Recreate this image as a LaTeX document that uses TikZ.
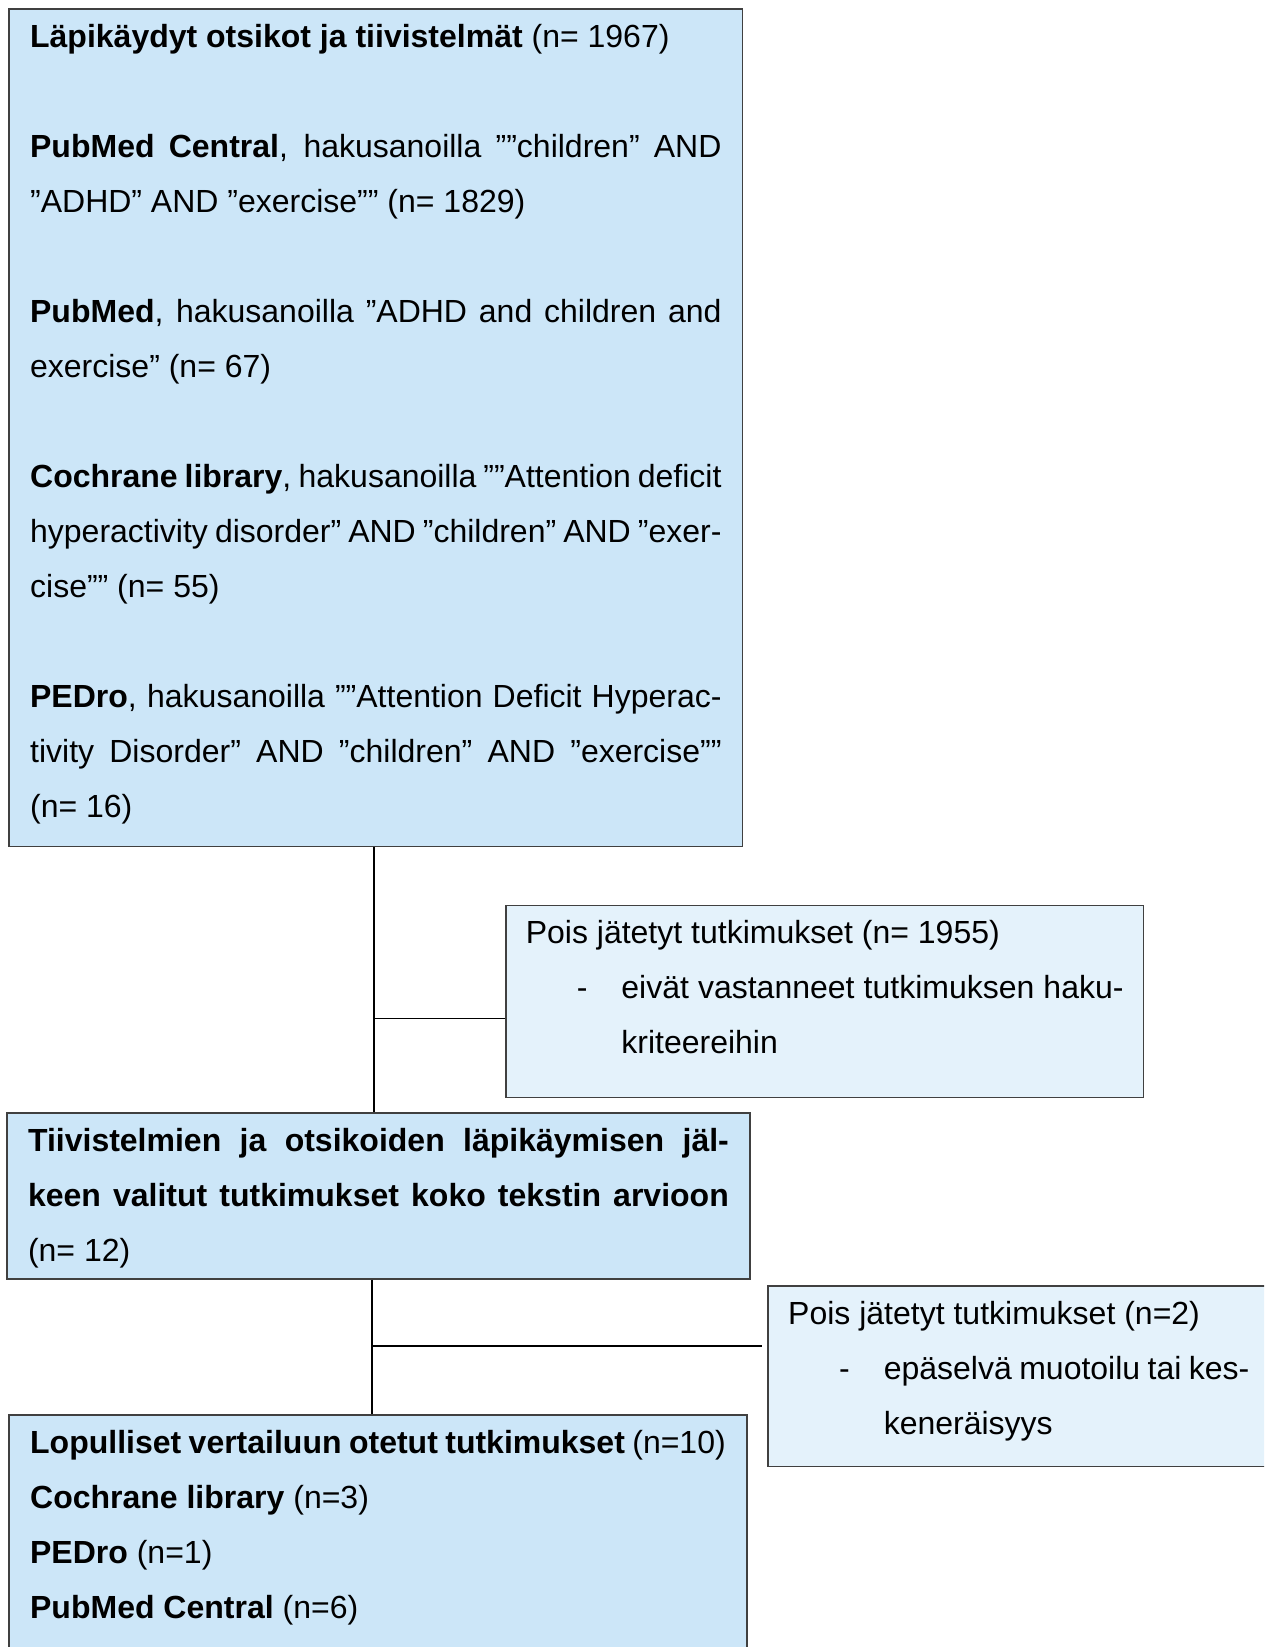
\documentclass[tikz,border=0pt]{standalone}
\usepackage{fontspec}
\setmainfont{Liberation Sans}
\usepackage{tikz}
\usetikzlibrary{
    positioning,
}
\definecolor{mainfill}{RGB}{204,230,248}
\definecolor{sidefill}{RGB}{228,242,251}
\definecolor{edge}{RGB}{64,64,64}
\newcommand{\padbelow}[1]{\rule[-#1]{0pt}{#1}}
\newcommand{\bulletgap}{\makebox[47.8pt][l]{\hspace*{25.5pt}-}}
\hyphenpenalty=10000
\tikzset{
    mainbox/.style = {
        rectangle,
        draw=edge,
        line width=0.75pt,
        fill=mainfill,
        inner xsep=10.5pt,
        inner ysep=0pt,
        align=justify,
        anchor=north west,
        font=\fontsize{16pt}{27.5pt}\selectfont,
    },
    sidebox/.style = {
        mainbox,
        fill=sidefill,
        inner xsep=10pt,
        anchor=west,
    },
}
\tikzstyle{link} = [
    line width=0.75pt,
    black
]

\begin{document}
\begin{tikzpicture}[]
        \useasboundingbox (0,0) rectangle (632pt,-823.5pt);
        \clip (0,0) rectangle (632pt,-823.5pt);

        \node [mainbox, text width=345.7pt] (search) at (4.2pt,-4.2pt)
        {\strut\textbf{Läpikäydyt otsikot ja tiivistelmät} (n= 1967)\\[27.5pt]
        \textbf{PubMed Central}, hakusanoilla ””children” AND\linebreak
        ”ADHD” AND ”exercise”” (n= 1829)\\[27.5pt]
        \textbf{PubMed}, hakusanoilla ”ADHD and children and\linebreak
        exercise” (n= 67)\\[27.5pt]
        \textbf{Cochrane library}, hakusanoilla ””Attention deficit\linebreak
        hyperactivity disorder” AND ”children” AND ”exer-\linebreak
        cise”” (n= 55)\\[27.5pt]
        \textbf{PEDro}, hakusanoilla ””Attention Deficit Hyperac-\linebreak
        tivity Disorder” AND ”children” AND ”exercise””\linebreak
        (n= 16)\padbelow{14.45pt}};

        \node [mainbox, text width=350.4pt, below=132.5pt of search.south west,
            anchor=north west, xshift=-1.05pt] (screened)
        {\strut\textbf{Tiivistelmien ja otsikoiden läpikäymisen jäl-\linebreak
        keen valitut tutkimukset koko tekstin arvioon}\linebreak
        (n= 12)\padbelow{8.75pt}};

        \node [mainbox, text width=347.8pt, below=67.3pt of screened.south west,
            anchor=north west, xshift=1.05pt] (final)
        {\strut\textbf{Lopulliset vertailuun otetut tutkimukset} (n=10)\\
        \textbf{Cochrane library} (n=3)\\
        \textbf{PEDro} (n=1)\\
        \textbf{PubMed Central} (n=6)\padbelow{20pt}};

        \coordinate [below=85.65pt of search.south, xshift=-1pt] (split1);
        \coordinate (split2) at ([xshift=-3.35pt, yshift=-33.1pt]screened.south);

        \node [sidebox, text width=298.9pt, right=65.6pt of split1, yshift=8.6pt] (excl1)
        {\strut Pois jätetyt tutkimukset (n= 1955)\\
        \bulletgap eivät vastanneet tutkimuksen haku-\linebreak
        \hspace*{47.8pt}kriteereihin\padbelow{21.9pt}};

        \node [sidebox, text width=230.6pt, right=197.85pt of split2, yshift=-15.175pt] (excl2)
        {\strut Pois jätetyt tutkimukset (n=2)\\
        \bulletgap epäselvä muotoilu tai kes-\linebreak
        \hspace*{47.8pt}keneräisyys\padbelow{16.1pt}};

        \draw [link] (split1 |- search.south) -- (split1 |- screened.north);
        \draw [link] (split1) -- (split1 -| excl1.west);
        \draw [link] (split2 |- screened.south) -- (split2 |- final.north);
        \draw [link, shorten >=2.5pt] (split2) -- (split2 -| excl2.west);

    \end{tikzpicture}
\end{document}
